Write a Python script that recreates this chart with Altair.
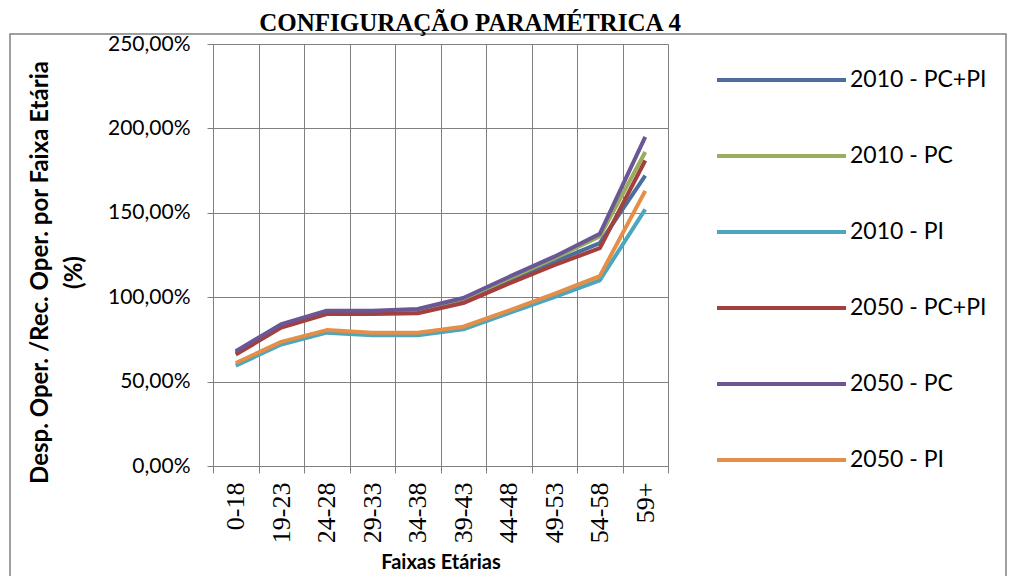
import altair as alt
import pandas as pd

categories = ["0-18", "19-23", "24-28", "29-33", "34-38", "39-43", "44-48", "49-53", "54-58", "59+"]
series_names = ["2010 - PC+PI", "2010 - PC", "2010 - PI", "2050 - PC+PI", "2050 - PC", "2050 - PI"]

v2010_pcpi = [67.0, 83.0, 91.0, 91.0, 91.5, 98.0, 110.0, 121.0, 132.0, 172.0]
v2010_pc = [67.5, 83.5, 91.5, 91.5, 92.5, 99.0, 111.0, 123.0, 136.0, 186.0]
v2010_pi = [59.5, 72.0, 79.0, 77.5, 77.5, 81.0, 90.5, 100.0, 110.0, 152.0]
v2050_pcpi = [66.0, 82.0, 90.0, 90.0, 90.5, 96.5, 108.0, 119.0, 129.0, 181.0]
v2050_pc = [68.0, 84.0, 92.0, 92.0, 93.0, 99.5, 112.0, 124.0, 137.5, 195.0]
v2050_pi = [61.0, 73.5, 80.5, 79.0, 79.0, 82.5, 92.0, 102.0, 112.5, 163.0]

colors = ["#4A6E9E", "#98AE5C", "#4BA6BE", "#A3403E", "#6B5696", "#E48E48"]
y_ticks = [0, 50, 100, 150, 200, 250]
chart_title = "CONFIGURAÇÃO PARAMÉTRICA 4"

all_values = [v2010_pcpi, v2010_pc, v2010_pi, v2050_pcpi, v2050_pc, v2050_pi]
rows = []
for name, vals in zip(series_names, all_values):
    for c, v in zip(categories, vals):
        rows.append({"faixa": c, "serie": name, "valor": v})
df = pd.DataFrame(rows)
legend_df = pd.DataFrame({"serie": series_names})
frame_df = pd.DataFrame({"k": [0]})
title_df = pd.DataFrame({"t": [chart_title]})

W, H = 455, 422
GRID = "#808080"
SERIF = "Liberation Serif"

color_scale = alt.Scale(domain=series_names, range=colors)

lines = alt.Chart(df).mark_line(strokeWidth=4, strokeJoin="round").encode(
    x=alt.X(
        "faixa:O",
        sort=categories,
        scale=alt.Scale(type="band", paddingInner=0, paddingOuter=0),
        axis=alt.Axis(
            title="Faixas Etárias",
            tickBand="extent",
            grid=True,
            gridColor=GRID,
            labelAngle=-90,
            labelFont=SERIF,
            labelFontSize=26,
            labelColor="black",
            labelPadding=9,
            tickSize=7,
            tickColor=GRID,
            domainColor=GRID,
            titleFont="Lato",
            titleFontSize=20,
            titleFontWeight="bold",
            titleColor="black",
            titleX=W / 2,
            titleY=86,
            titleBaseline="top",
            titleAlign="center",
        ),
    ),
    y=alt.Y(
        "valor:Q",
        scale=alt.Scale(domain=[0, 250], nice=False),
        axis=alt.Axis(
            values=y_ticks,
            labelExpr="replace(format(datum.value, '.2f'), '.', ',') + '%'",
            labelFont="Lato",
            labelFontSize=21,
            labelColor="black",
            labelPadding=17,
            tickSize=6,
            tickColor=GRID,
            domainColor=GRID,
            gridColor=GRID,
            title=["Desp. Oper. /Rec. Oper. por Faixa Etária", "(%)"],
            titleFont="Lato",
            titleFontSize=24,
            titleFontWeight="bold",
            titleColor="black",
            titleAngle=270,
            titleX=-173,
            titleY=228,
            titleAlign="center",
            titleBaseline="middle",
            titleLineHeight=34,
        ),
    ),
    color=alt.Color("serie:N", scale=color_scale, legend=None),
)

leg_y = alt.Y(
    "serie:N",
    sort=series_names,
    scale=alt.Scale(type="point", domain=series_names, range=[36, 416], padding=0),
    axis=None,
)

leg_rules = alt.Chart(legend_df).mark_rule(strokeWidth=4).encode(
    x=alt.value(504),
    x2=alt.value(633),
    y=leg_y,
    color=alt.Color("serie:N", scale=color_scale, legend=None),
)

leg_text = alt.Chart(legend_df).mark_text(
    align="left", baseline="middle", font="Lato", fontSize=23, color="black"
).encode(
    x=alt.value(637),
    y=leg_y,
    text="serie:N",
)

frame = alt.Chart(frame_df).mark_rect(fillOpacity=0, stroke=GRID, strokeWidth=1.5).encode(
    x=alt.value(-203),
    x2=alt.value(793),
    y=alt.value(-10),
    y2=alt.value(600),
)

title = alt.Chart(title_df).mark_text(
    align="center", baseline="alphabetic", font=SERIF, fontSize=25, fontWeight="bold", color="black"
).encode(
    x=alt.value(257),
    y=alt.value(-13),
    text="t:N",
)

chart = alt.layer(frame, lines, leg_rules, leg_text, title).resolve_scale(
    y="independent"
).properties(
    width=W,
    height=H,
    autosize=alt.AutoSizeParams(type="none"),
    padding={"left": 205, "top": 36, "right": 341, "bottom": 110},
).configure_view(stroke=GRID).configure(background="white").configure_axisX(
    labelFont=SERIF
)

chart.save("out.html", embed_options={"renderer": "svg", "actions": False})
